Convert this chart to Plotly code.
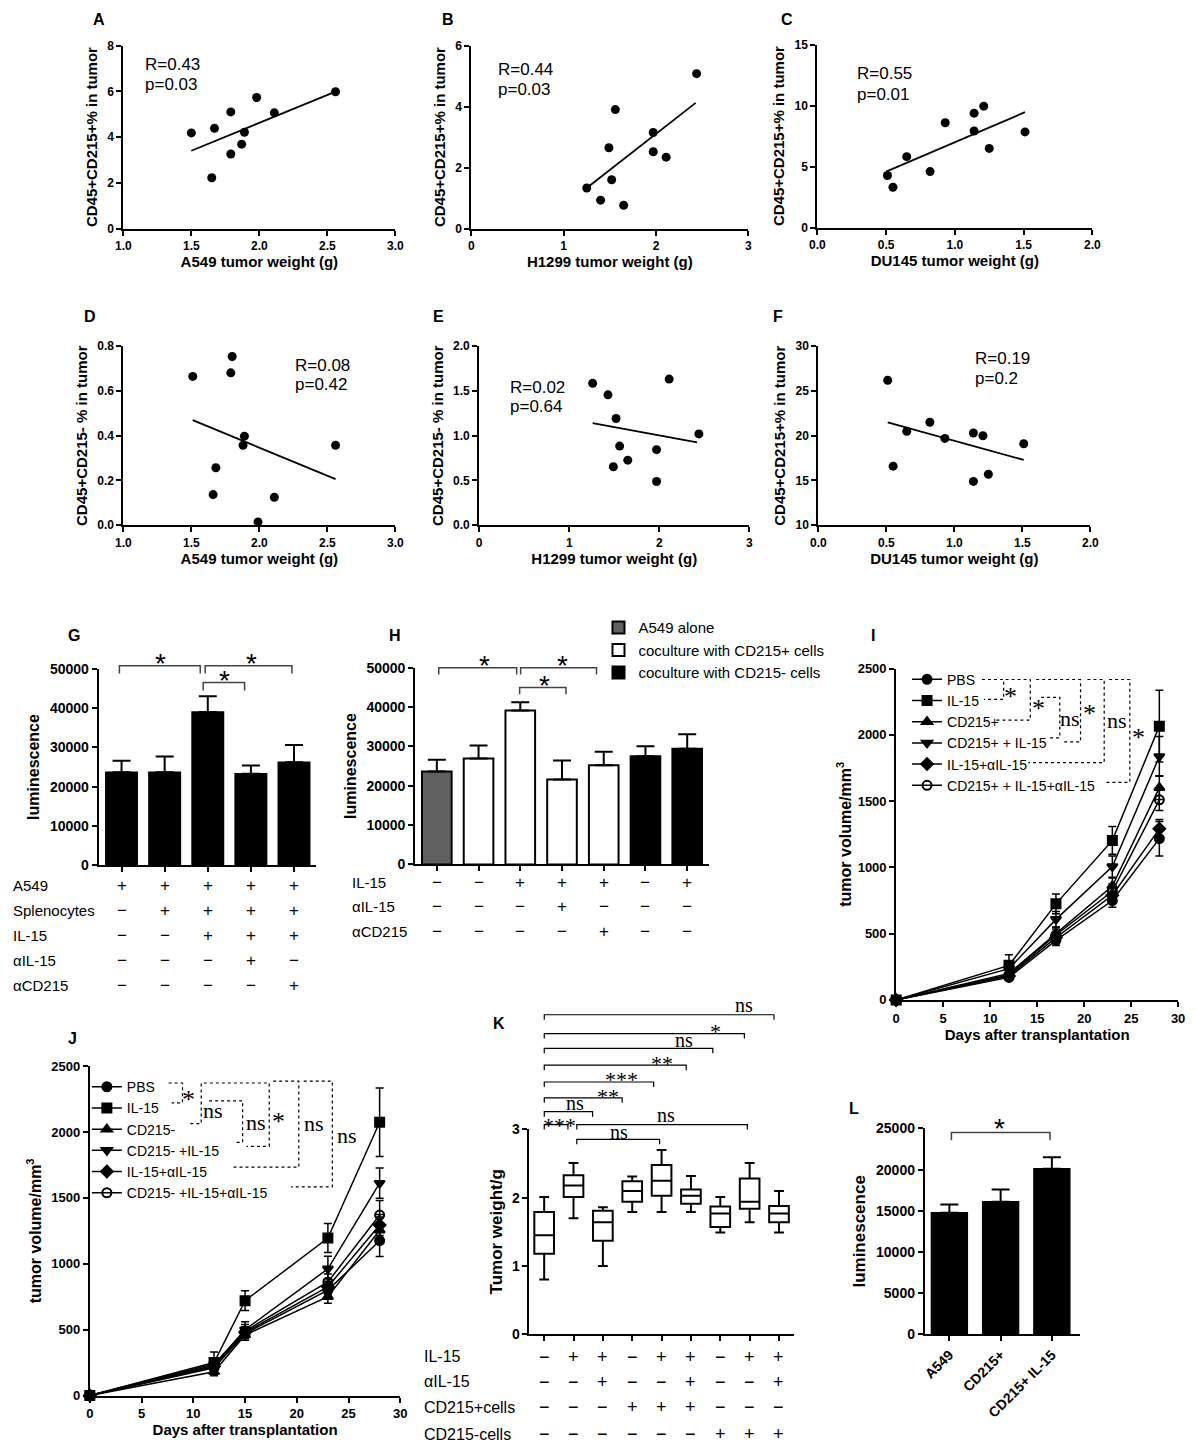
import plotly.graph_objects as go

W, H = 1196, 1450
SANS = "Liberation Sans, Arial, sans-serif"
SERIF = "Liberation Serif, Times New Roman, serif"
MINUS = "\u2212"

# ---------------- data ----------------
# A-F: tumour weight vs. % of cells in tumour
a_weight = [1.50, 1.67, 1.65, 1.79, 1.79, 1.89, 1.87, 1.98, 2.11, 2.56]
a_pct = [4.18, 4.38, 2.22, 5.10, 3.26, 4.21, 3.69, 5.73, 5.06, 5.98]
a_fit_x = [1.50, 2.56]
a_fit_y = [3.40, 5.99]

b_weight = [1.25, 1.40, 1.49, 1.52, 1.56, 1.65, 1.97, 1.97, 2.11, 2.44]
b_pct = [1.33, 0.93, 2.65, 1.60, 3.90, 0.76, 3.15, 2.52, 2.34, 5.08]
b_fit_x = [1.27, 2.43]
b_fit_y = [1.38, 4.12]

c_weight = [0.51, 0.55, 0.65, 0.82, 0.93, 1.14, 1.21, 1.14, 1.25, 1.51]
c_pct = [4.27, 3.30, 5.81, 4.59, 8.59, 9.38, 9.95, 7.92, 6.49, 7.84]
c_fit_x = [0.50, 1.51]
c_fit_y = [4.59, 9.46]

d_weight = [1.51, 1.80, 1.79, 1.89, 1.88, 1.68, 1.66, 2.11, 1.99, 2.56]
d_pct = [0.665, 0.754, 0.681, 0.398, 0.357, 0.257, 0.137, 0.125, 0.015, 0.357]
d_fit_x = [1.51, 2.56]
d_fit_y = [0.470, 0.206]

e_weight = [1.26, 1.43, 1.52, 2.11, 2.44, 1.56, 1.65, 1.49, 1.97, 1.97]
e_pct = [1.585, 1.457, 1.193, 1.633, 1.020, 0.884, 0.727, 0.653, 0.844, 0.488]
e_fit_x = [1.26, 2.42]
e_fit_y = [1.14, 0.925]

f_weight = [0.51, 0.55, 0.65, 0.82, 0.93, 1.14, 1.21, 1.14, 1.25, 1.51]
f_pct = [26.2, 16.6, 20.5, 21.5, 19.7, 20.3, 20.0, 14.9, 15.7, 19.1]
f_fit_x = [0.51, 1.51]
f_fit_y = [21.5, 17.3]

# G: luminescence, A549 + splenocytes
g_mean = [23700, 23700, 39000, 23300, 26200]
g_err = [2900, 4000, 4000, 2100, 4400]
g_rows = ["A549", "Splenocytes", "IL-15", "\u03b1IL-15", "\u03b1CD215"]
g_signs = [["+", "+", "+", "+", "+"],
           ["-", "+", "+", "+", "+"],
           ["-", "-", "+", "+", "+"],
           ["-", "-", "-", "+", "-"],
           ["-", "-", "-", "-", "+"]]

# H: luminescence, coculture
h_mean = [23600, 26900, 39100, 21600, 25200, 27500, 29400]
h_err = [3000, 3300, 2100, 4800, 3400, 2500, 3700]
h_group = [0, 1, 1, 1, 1, 2, 2]
h_names = ["A549 alone", "coculture with CD215+ cells", "coculture with CD215- cells"]
h_rows = ["IL-15", "\u03b1IL-15", "\u03b1CD215"]
h_signs = [["-", "-", "+", "+", "+", "-", "+"],
           ["-", "-", "-", "+", "-", "-", "-"],
           ["-", "-", "-", "-", "+", "-", "-"]]

# I / J: tumour growth curves
i_days = [0, 12, 17, 23, 28]
i_names = ["PBS", "IL-15", "CD215+", "CD215+ + IL-15", "IL-15+\u03b1IL-15",
           "CD215+ + IL-15+\u03b1IL-15"]
i_vol = [[0, 170, 450, 750, 1217],
         [0, 261, 725, 1204, 2066],
         [0, 200, 500, 860, 1602],
         [0, 236, 608, 1006, 1837],
         [0, 180, 470, 790, 1291],
         [0, 190, 490, 820, 1510]]
i_err = [[0, 20, 40, 50, 130],
         [0, 80, 75, 105, 270],
         [0, 30, 50, 60, 90],
         [0, 40, 60, 80, 150],
         [0, 25, 40, 50, 70],
         [0, 30, 45, 55, 80]]

j_days = [0, 12, 15, 23, 28]
j_names = ["PBS", "IL-15", "CD215-", "CD215- +IL-15", "IL-15+\u03b1IL-15",
           "CD215- +IL-15+\u03b1IL-15"]
j_vol = [[0, 210, 470, 800, 1175],
         [0, 250, 720, 1195, 2075],
         [0, 180, 460, 750, 1255],
         [0, 230, 500, 962, 1612],
         [0, 220, 480, 825, 1295],
         [0, 240, 490, 862, 1370]]
j_err = [[0, 20, 40, 50, 120],
         [0, 80, 75, 110, 260],
         [0, 30, 40, 50, 100],
         [0, 40, 60, 95, 115],
         [0, 25, 40, 60, 80],
         [0, 30, 50, 60, 110]]
curve_symbols = ["circle", "square", "triangle-up", "triangle-down", "diamond", "circle-open"]

# K: tumour weight box plots
k_upper = [2.01, 2.51, 1.86, 2.31, 2.70, 2.32, 2.01, 2.51, 2.10]
k_q3 = [1.79, 2.33, 1.81, 2.24, 2.48, 2.12, 1.87, 2.28, 1.88]
k_median = [1.45, 2.18, 1.64, 2.10, 2.25, 2.03, 1.77, 1.94, 1.77]
k_q1 = [1.18, 2.01, 1.37, 1.94, 2.03, 1.91, 1.57, 1.84, 1.64]
k_lower = [0.80, 1.70, 1.00, 1.79, 1.79, 1.79, 1.49, 1.64, 1.49]
k_rows = ["IL-15", "\u03b1IL-15", "CD215+cells", "CD215-cells"]
k_signs = [["-", "+", "+", "-", "+", "+", "-", "+", "+"],
           ["-", "-", "+", "-", "-", "+", "-", "-", "+"],
           ["-", "-", "-", "+", "+", "+", "-", "-", "-"],
           ["-", "-", "-", "-", "-", "-", "+", "+", "+"]]

# L: luminescence
l_labels = ["A549", "CD215+", "CD215+ IL-15"]
l_mean = [14750, 16100, 20100]
l_err = [1000, 1500, 1400]


# ---------------- helpers ----------------
def px(x):
    return x / W


def py(y):
    return 1 - y / H


layout = {}
annotations = []
shapes = []
fig = go.Figure()

AX = dict(showline=True, linecolor="black", linewidth=2, ticks="outside", ticklen=5,
          tickwidth=2, tickcolor="black", showgrid=False, zeroline=False,
          fixedrange=True)


def tickfont(size):
    return dict(family=SANS, size=size, color="black", weight="bold")


def axes(n, left, right, top, bottom, xr, yr, xopt=None, yopt=None):
    s = "" if n == 1 else str(n)
    xa = dict(AX, domain=[px(left), px(right)], range=xr, anchor="y" + s)
    ya = dict(AX, domain=[py(bottom), py(top)], range=yr, anchor="x" + s)
    xa.update(xopt or {})
    ya.update(yopt or {})
    layout["xaxis" + s] = xa
    layout["yaxis" + s] = ya
    return "x" + s, "y" + s


def title(text, size, standoff):
    return dict(text=text, standoff=standoff,
                font=dict(family=SANS, size=size, color="black", weight="bold"))


def note(x, y, text, size=16, family=SANS, xanchor="center", bold=False, **kw):
    a = dict(x=px(x), y=py(y), xref="paper", yref="paper", text=text, showarrow=False,
             xanchor=xanchor, yanchor="middle",
             font=dict(family=family, size=size, color="black",
                       weight="bold" if bold else "normal"))
    a.update(kw)
    annotations.append(a)


def star(x, y, text="*", size=28, family=SANS):
    # asterisks sit high in the line box, shift the box down a bit
    note(x, y + size * 0.22, text, size=size, family=family)


def bracket(x1, x2, y, drop, color="#444444", width=1.5):
    path = "M{},{} L{},{} L{},{} L{},{}".format(
        px(x1), py(y + drop), px(x1), py(y), px(x2), py(y), px(x2), py(y + drop))
    shapes.append(dict(type="path", path=path, xref="paper", yref="paper",
                       line=dict(color=color, width=width)))


def dotted(points):
    path = "M" + " L".join("{},{}".format(px(a), py(b)) for a, b in points)
    shapes.append(dict(type="path", path=path, xref="paper", yref="paper",
                       line=dict(color="black", width=1.2, dash="dot")))


def sign_table(xref, rows, signs, label_x, row_y, size):
    for r, name in enumerate(rows):
        note(label_x, row_y[r], name, size=size, xanchor="left")
        for c, s in enumerate(signs[r]):
            annotations.append(dict(
                x=c, y=py(row_y[r]), xref=xref, yref="paper", showarrow=False,
                text="+" if s == "+" else MINUS, xanchor="center", yanchor="middle",
                font=dict(family=SANS, size=size + 2, color="black")))


# ---------------- A-F scatter panels ----------------
scatter_panels = [
    (1, (117, 393, 38, 223), [1, 3], [0, 8], dict(dtick=0.5, tickformat=".1f"), dict(dtick=2),
     a_weight, a_pct, a_fit_x, a_fit_y, "A549 tumor weight (g)", "CD45+CD215+% in tumor",
     ("R=0.43", "p=0.03"), (1.146, 7.18, 6.28), "A", (92, 12)),
    (2, (470, 751, 38, 223), [0, 3], [0, 6], dict(dtick=1), dict(dtick=2),
     b_weight, b_pct, b_fit_x, b_fit_y, "H1299 tumor weight (g)", "CD45+CD215+% in tumor",
     ("R=0.44", "p=0.03"), (0.263, 5.2, 4.57), "B", (446, 12)),
    (3, (821, 1100, 37, 222), [0, 2], [0, 15], dict(dtick=0.5, tickformat=".1f"), dict(dtick=5),
     c_weight, c_pct, c_fit_x, c_fit_y, "DU145 tumor weight (g)", "CD45+CD215+% in tumor",
     ("R=0.55", "p=0.01"), (0.273, 12.65, 10.9), "C", (790, 12)),
    (4, (117, 393, 342, 523), [1, 3], [0, 0.8], dict(dtick=0.5, tickformat=".1f"),
     dict(dtick=0.2, tickformat=".1f"),
     d_weight, d_pct, d_fit_x, d_fit_y, "A549 tumor weight (g)", "CD45+CD215- % in tumor",
     ("R=0.08", "p=0.42"), (2.25, 0.715, 0.631), "D", (83, 312)),
    (5, (478, 752, 342, 523), [0, 3], [0, 2], dict(dtick=1), dict(dtick=0.5, tickformat=".1f"),
     e_weight, e_pct, e_fit_x, e_fit_y, "H1299 tumor weight (g)", "CD45+CD215- % in tumor",
     ("R=0.02", "p=0.64"), (0.316, 1.541, 1.321), "E", (437, 312)),
    (6, (822, 1098, 342, 523), [0, 2], [10, 30], dict(dtick=0.5, tickformat=".1f"), dict(dtick=5),
     f_weight, f_pct, f_fit_x, f_fit_y, "DU145 tumor weight (g)", "CD45+CD215+% in tumor",
     ("R=0.19", "p=0.2"), (1.139, 28.64, 26.44), "F", (781, 312)),
]

for (n, box, xr, yr, xo, yo, xs, ys, fx, fy, xt, yt, rtext, rpos, letter, lpos) in scatter_panels:
    xo = dict(xo, tickfont=tickfont(12), title=title(xt, 15, 4))
    yo = dict(yo, tickfont=tickfont(12), title=title(yt, 15, 6))
    xa, ya = axes(n, *box, xr, yr, xo, yo)
    fig.add_trace(go.Scatter(x=xs, y=ys, mode="markers", xaxis=xa, yaxis=ya,
                             marker=dict(color="black", size=9), showlegend=False,
                             cliponaxis=False))
    fig.add_trace(go.Scatter(x=fx, y=fy, mode="lines", xaxis=xa, yaxis=ya,
                             line=dict(color="black", width=1.8), showlegend=False))
    for line_text, line_y in zip(rtext, rpos[1:]):
        annotations.append(dict(x=rpos[0], y=line_y, xref=xa, yref=ya, text=line_text,
                                showarrow=False, xanchor="left", yanchor="middle",
                                font=dict(family=SANS, size=17, color="black")))
    note(lpos[0], lpos[1], letter, size=16, bold=True)

# ---------------- G ----------------
xa, ya = axes(7, 92, 312, 668, 867, [-0.53, 4.5], [0, 50000],
              dict(tickvals=list(range(len(g_mean))), showticklabels=False),
              dict(dtick=10000, tickformat="d", tickfont=tickfont(14),
                   title=title("luminescence", 16, 6)))
fig.add_trace(go.Bar(x=list(range(len(g_mean))), y=g_mean, xaxis=xa, yaxis=ya, width=0.73,
                     marker=dict(color="black", line=dict(color="black", width=1.5)),
                     error_y=dict(type="data", symmetric=False, array=g_err,
                                  arrayminus=[0] * len(g_err), color="black",
                                  thickness=2, width=9),
                     showlegend=False))
sign_table(xa, g_rows, g_signs, 3, [887, 913, 938, 963, 988], 15)
note(67, 634, "G", size=16, bold=True)
bracket(113, 195, 665, 8)
bracket(200, 288, 665, 8)
bracket(198, 240, 682, 8)
star(155, 657)
star(247, 657)
star(220, 674)

# ---------------- H ----------------
xa, ya = axes(8, 413, 711, 667, 866, [-0.52, 6.52], [0, 50000],
              dict(tickvals=list(range(len(h_mean))), showticklabels=False),
              dict(dtick=10000, tickformat="d", tickfont=tickfont(14),
                   title=title("luminescence", 16, 6)))
h_fill = ["#606060", "white", "black"]
for g, name in enumerate(h_names):
    idx = [i for i, v in enumerate(h_group) if v == g]
    fig.add_trace(go.Bar(x=idx, y=[h_mean[i] for i in idx], xaxis=xa, yaxis=ya, width=0.71,
                         name=name, legend="legend",
                         marker=dict(color=h_fill[g], line=dict(color="black", width=2)),
                         error_y=dict(type="data", symmetric=False,
                                      array=[h_err[i] for i in idx],
                                      arrayminus=[0] * len(idx), color="black",
                                      thickness=2, width=9)))
sign_table(xa, h_rows, h_signs, 347, [884, 909, 934], 15)
note(393, 634, "H", size=16, bold=True)
bracket(437, 516, 667, 7)
bracket(520, 597, 667, 7)
bracket(519, 566, 687, 7)
star(483, 659)
star(563, 659)
star(544, 679)

# ---------------- I and J growth curves ----------------
curve_panels = [
    (9, (901, 1187, 668, 1003), i_days, i_names, i_vol, i_err, "legend2", "I", (877, 634), 2),
    (10, (83, 398, 1070, 1403), j_days, j_names, j_vol, j_err, "legend3", "J", (65, 1042), 6),
]
for (n, box, days, names, vols, errs, leg, letter, lpos, ystand) in curve_panels:
    xa, ya = axes(n, *box, [0, 30], [0, 2500],
                  dict(dtick=5, tickfont=tickfont(13),
                       title=title("Days after transplantation", 15, 2)),
                  dict(dtick=500, tickfont=tickfont(13),
                       title=title("tumor volume/mm<sup>3</sup>", 16, ystand)))
    for k, name in enumerate(names):
        fig.add_trace(go.Scatter(
            x=days, y=vols[k], mode="lines+markers", name=name, legend=leg,
            xaxis=xa, yaxis=ya, cliponaxis=False,
            line=dict(color="black", width=1.5),
            marker=dict(symbol=curve_symbols[k], size=9, color="black",
                        line=dict(color="black", width=2)),
            error_y=dict(type="data", array=errs[k], color="black", thickness=1.5, width=4)))
    note(lpos[0], lpos[1], letter, size=16, bold=True)

# dotted comparison brackets for I
for pts in [[(988, 679), (1010, 679), (1010, 699), (990, 699)],
            [(1012, 679), (1037, 679), (1037, 720), (1002, 720)],
            [(1048, 697), (1067, 697), (1067, 738), (1054, 738)],
            [(1043, 679), (1088, 679), (1088, 742), (1070, 742)],
            [(1095, 679), (1112, 679), (1112, 763), (1035, 763)],
            [(1117, 679), (1138, 679), (1138, 783), (1113, 783)]]:
    dotted(pts)
for (x, y) in [(1017, 690), (1045, 703), (1097, 708), (1147, 732)]:
    star(x, y, "*", size=26, family=SERIF)
for (x, y) in [(1077, 718), (1125, 720)]:
    note(x, y, "ns", size=22, family=SERIF)

# dotted comparison brackets for J
for pts in [[(163, 1087), (177, 1087), (177, 1107), (166, 1107)],
            [(185, 1128), (196, 1128), (196, 1087), (265, 1087), (265, 1151), (242, 1151)],
            [(204, 1105), (238, 1105), (238, 1147), (230, 1147)],
            [(269, 1085), (295, 1085), (295, 1172), (227, 1172)],
            [(300, 1085), (329, 1085), (329, 1192), (287, 1192)]]:
    dotted(pts)
for (x, y) in [(183, 1098), (274, 1120)]:
    star(x, y, "*", size=26, family=SERIF)
for (x, y) in [(208, 1115), (252, 1127), (310, 1128), (344, 1140)]:
    note(x, y, "ns", size=22, family=SERIF)

# ---------------- K ----------------
xa, ya = axes(11, 529, 797, 1134, 1341, [-0.5, 8.5], [0, 3],
              dict(tickvals=list(range(len(k_median))), showticklabels=False),
              dict(dtick=1, tickfont=tickfont(14), title=title("Tumor weight/g", 17, 5)))
fig.add_trace(go.Box(x=list(range(len(k_median))), q1=k_q1, median=k_median, q3=k_q3,
                     lowerfence=k_lower, upperfence=k_upper, xaxis=xa, yaxis=ya,
                     width=0.67, whiskerwidth=0.5, boxpoints=False, fillcolor="white",
                     line=dict(color="black", width=2), showlegend=False))
sign_table(xa, k_rows, k_signs, 420, [1364, 1389, 1415, 1442], 16)
note(498, 1027, "K", size=16, bold=True)
k_brackets = [
    (544, 777, 1018, "ns", 747, 1008),
    (544, 747, 1037, "*", 718, 1030),
    (544, 715, 1052, "ns", 686, 1044),
    (544, 688, 1069, "**", 663, 1062),
    (544, 655, 1086, "***", 622, 1079),
    (544, 623, 1102, "**", 609, 1096),
    (544, 593, 1116, "ns", 575, 1107),
    (544, 568, 1129, "***", 559, 1125),
    (577, 750, 1129, "ns", 667, 1119),
    (577, 661, 1144, "ns", 620, 1137),
]
for (x1, x2, y, t, tx, ty) in k_brackets:
    bracket(x1, x2, y, 5, color="black", width=1.2)
    if t == "ns":
        note(tx, ty, t, size=20, family=SERIF)
    else:
        star(tx, ty, t, size=22, family=SERIF)

# ---------------- L ----------------
xa, ya = axes(12, 930, 1087, 1133, 1341, [-0.48, 2.54], [0, 25000],
              dict(tickvals=list(range(len(l_mean))), ticktext=l_labels, tickangle=-45,
                   tickfont=tickfont(14)),
              dict(dtick=5000, tickformat="d", tickfont=tickfont(14),
                   title=title("luminescence", 17, 6)))
fig.add_trace(go.Bar(x=list(range(len(l_mean))), y=l_mean, xaxis=xa, yaxis=ya, width=0.7,
                     marker=dict(color="black", line=dict(color="black", width=1.5)),
                     error_y=dict(type="data", symmetric=False, array=l_err,
                                  arrayminus=[0] * len(l_err), color="black",
                                  thickness=2, width=9),
                     showlegend=False))
note(858, 1113, "L", size=16, bold=True)
bracket(957, 1057, 1137, 8)
star(1006, 1127)

# ---------------- layout ----------------
legend_common = dict(bgcolor="rgba(0,0,0,0)", borderwidth=0, xanchor="left", yanchor="top",
                     traceorder="normal", itemclick=False, itemdoubleclick=False)
layout["legend"] = dict(legend_common, x=px(599), y=py(610),
                        font=dict(family=SANS, size=15, color="black"))
layout["legend2"] = dict(legend_common, x=px(912), y=py(663),
                         font=dict(family=SANS, size=14, color="black"))
layout["legend3"] = dict(legend_common, x=px(80), y=py(1075),
                         font=dict(family=SANS, size=14, color="black"))

fig.update_layout(
    width=W, height=H, autosize=False,
    margin=dict(l=0, r=0, t=0, b=0),
    paper_bgcolor="white", plot_bgcolor="white",
    font=dict(family=SANS, color="black"),
    annotations=annotations, shapes=shapes,
    **layout,
)

fig.write_html("out.html", config={"displayModeBar": False},
               post_script="document.body.style.margin='0';")
